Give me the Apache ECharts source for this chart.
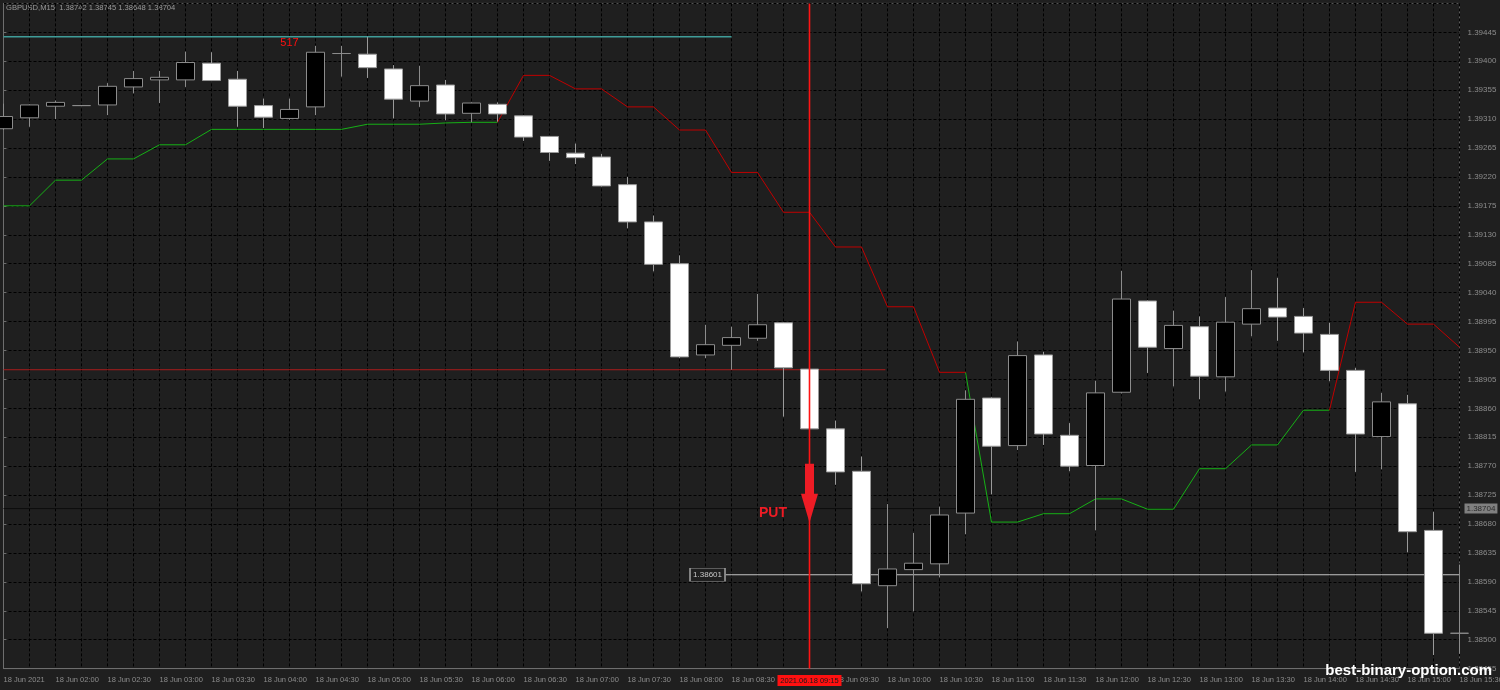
<!DOCTYPE html>
<html><head><meta charset="utf-8">
<script src="https://cdn.jsdelivr.net/npm/echarts@6/dist/echarts.min.js"></script>
<style>html,body{margin:0;padding:0;background:#1f1f1f;}#c{width:1500px;height:690px;}</style>
</head><body><div id="c"></div>
<script>
// ---------- data ----------
const headerText = 'GBPUSD,M15  1.38742 1.38745 1.38648 1.38704';
const tickLabels = ['18 Jun 2021','18 Jun 02:00','18 Jun 02:30','18 Jun 03:00','18 Jun 03:30','18 Jun 04:00','18 Jun 04:30','18 Jun 05:00','18 Jun 05:30','18 Jun 06:00','18 Jun 06:30','18 Jun 07:00','18 Jun 07:30','18 Jun 08:00','18 Jun 08:30','18 Jun 09:00','18 Jun 09:30','18 Jun 10:00','18 Jun 10:30','18 Jun 11:00','18 Jun 11:30','18 Jun 12:00','18 Jun 12:30','18 Jun 13:00','18 Jun 13:30','18 Jun 14:00','18 Jun 14:30','18 Jun 15:00','18 Jun 15:30'];
const opens  = [1.39295,1.39312,1.39330,1.39331,1.39332,1.39360,1.39371,1.39371,1.39397,1.39372,1.39331,1.39311,1.39329,1.39412,1.39411,1.39388,1.39338,1.39363,1.39319,1.39333,1.39315,1.39283,1.39257,1.39251,1.39208,1.39150,1.39085,1.38943,1.38958,1.38969,1.38993,1.38921,1.38828,1.38762,1.38584,1.38609,1.38618,1.38697,1.38876,1.38802,1.38943,1.38818,1.38771,1.38885,1.39027,1.38953,1.38987,1.38909,1.38991,1.39016,1.39003,1.38975,1.38919,1.38816,1.38867,1.38670,1.38510];
const closes = [1.39314,1.39332,1.39336,1.39331,1.39361,1.39373,1.39375,1.39398,1.39370,1.39330,1.39313,1.39325,1.39414,1.39412,1.39390,1.39341,1.39362,1.39318,1.39335,1.39318,1.39282,1.39258,1.39250,1.39206,1.39150,1.39084,1.38940,1.38959,1.38970,1.38990,1.38923,1.38828,1.38761,1.38587,1.38610,1.38619,1.38694,1.38874,1.38801,1.38942,1.38820,1.38770,1.38884,1.39030,1.38955,1.38989,1.38910,1.38994,1.39015,1.39002,1.38977,1.38919,1.38820,1.38870,1.38668,1.38510,1.38510];
const lows   = [1.39293,1.39298,1.39310,1.39330,1.39316,1.39350,1.39335,1.39360,1.39369,1.39298,1.39296,1.39309,1.39316,1.39376,1.39374,1.39311,1.39329,1.39308,1.39305,1.39306,1.39276,1.39245,1.39240,1.39205,1.39140,1.39073,1.38938,1.38938,1.38920,1.38965,1.38847,1.38827,1.38741,1.38575,1.38518,1.38544,1.38597,1.38664,1.38726,1.38795,1.38803,1.38762,1.38670,1.38883,1.38915,1.38894,1.38874,1.38886,1.38972,1.38965,1.38947,1.38902,1.38761,1.38765,1.38636,1.38476,1.38478];
const highs  = [1.39334,1.39333,1.39339,1.39332,1.39366,1.39385,1.39385,1.39415,1.39414,1.39385,1.39342,1.39342,1.39424,1.39424,1.39438,1.39394,1.39393,1.39371,1.39336,1.39336,1.39316,1.39284,1.39272,1.39256,1.39220,1.39160,1.39098,1.38990,1.38987,1.39038,1.38994,1.38922,1.38841,1.38785,1.38711,1.38666,1.38707,1.38888,1.38877,1.38964,1.38948,1.38837,1.38903,1.39074,1.39028,1.39012,1.39003,1.39033,1.39075,1.39063,1.39016,1.38993,1.38923,1.38884,1.38881,1.38699,1.38617];
const greenTrail = [1.39175,1.39175,1.39215,1.39215,1.39248,1.39248,1.39270,1.39270,1.39294,1.39294,1.39294,1.39294,1.39294,1.39294,1.39302,1.39302,1.39302,1.39304,1.39305,1.39305,null,null,null,null,null,null,null,null,null,null,null,null,null,null,null,null,null,1.38916,1.38683,1.38683,1.38696,1.38696,1.38719,1.38719,1.38703,1.38703,1.38766,1.38766,1.38803,1.38803,1.38857,1.38857,null,null,null,null,null];
const redTrail   = [null,null,null,null,null,null,null,null,null,null,null,null,null,null,null,null,null,null,null,1.39305,1.39378,1.39378,1.39357,1.39357,1.39329,1.39329,1.39293,1.39293,1.39227,1.39227,1.39165,1.39165,1.39111,1.39111,1.39018,1.39018,1.38916,1.38916,null,null,null,null,null,null,null,null,null,null,null,null,null,1.38857,1.39025,1.39025,1.38991,1.38991,1.38955];
const yMin = 1.38455, yMax = 1.39490, yStep = 0.00045;
const highLevel = 1.39438,  highSpan = [0, 28];
const entryLevel = 1.38920, entrySpan = [0, 33.92];
const targetLevel = 1.38601, targetSpan = [27.77, 56];
const bidLevel = 1.38704, bidSpan = [0, 56];
const signalIndex = 31, signalTime = '2021.06.18 09:15', putPrice = 1.38728;
const counterMark = [11, 1.39428], counterText = '517';

// ---------- chart ----------
const chart = echarts.init(document.getElementById('c'));
const candles = opens.map((o, i) => [i, o, closes[i], lows[i], highs[i]]);
const toLine = arr => arr.map((v, i) => [i, v == null ? '-' : v]);
const seg = (span, level) => [[span[0], level], [span[1], level]];
const font = '"Liberation Sans", Arial, sans-serif';
const plain = (data, color, width, z, extra) => Object.assign({
  type: 'line', data, showSymbol: false, symbol: 'none', silent: true, clip: false,
  lineStyle: { color, width, type: 'solid', opacity: 1 }, z
}, extra || {});

chart.setOption({
  backgroundColor: '#1f1f1f',
  animation: false,
  grid: { left: 3.5, right: 40.5, top: 3.4, bottom: 21.4, show: true, borderColor: '#5c5c5c', borderWidth: 1,
          containLabel: false, outerBoundsMode: 'none' },
  xAxis: {
    type: 'value', min: 0, max: 56, interval: 1,
    axisLine: { lineStyle: { color: '#6e6e6e' } },
    axisTick: { show: false },
    splitLine: { show: true, lineStyle: { color: '#000', type: [3, 2], width: 1 } },
    axisLabel: {
      color: '#8c8c8c', fontSize: 7.5, fontFamily: font, align: 'left', margin: 7, hideOverlap: false,
      formatter: v => (Math.round(v) === v && v % 2 === 0) ? tickLabels[v / 2] : ''
    }
  },
  yAxis: {
    type: 'value', position: 'right', min: yMin, max: yMax, interval: yStep, scale: true,
    axisLine: { show: true, lineStyle: { color: '#6e6e6e' } },
    axisTick: { show: true, length: 3, lineStyle: { color: '#6e6e6e' } },
    splitLine: { show: true, lineStyle: { color: '#000', type: [3, 2], width: 1 } },
    axisLabel: { color: '#8c8c8c', fontSize: 8, fontFamily: font, margin: 8, showMaxLabel: false,
      formatter: v => v.toFixed(5) }
  },
  graphic: [
    { type: 'text', left: 6, top: 4, style: { text: headerText, fill: '#9a9a9a', font: '7.6px ' + font } },
    { type: 'text', right: 8, top: 663, z: 100, style: { text: 'best-binary-option.com', fill: '#ffffff', font: 'bold 15px ' + font } }
  ],
  series: [
    plain(toLine(greenTrail), '#16b016', 1, 3, { clip: true }),
    plain(toLine(redTrail), '#c00000', 1, 3, { clip: true }),
    plain(seg(bidSpan, bidLevel), '#0c0c0c', 1, 2, {
      endLabel: { show: true, formatter: bidLevel.toFixed(5), distance: 5, color: '#2a2a2a', fontSize: 8, fontFamily: font,
        backgroundColor: '#808080', padding: [1, 2, 1, 2] }
    }),
    plain(seg(highSpan, highLevel), '#3f9c98', 1.5, 2),
    plain(seg(entrySpan, entryLevel), '#a81c1c', 1, 2),
    plain(seg(targetSpan, targetLevel), '#c4c4c4', 1, 2, {
      markPoint: {
        silent: true, animation: false,
        data: [{ coord: [targetSpan[0], targetLevel], symbol: 'rect', symbolSize: [35, 13], symbolOffset: [-18, 0],
          itemStyle: { color: '#1f1f1f', borderColor: '#9a9a9a', borderWidth: 1 },
          label: { show: true, position: 'inside', formatter: targetLevel.toFixed(5), color: '#c8c8c8', fontSize: 8, fontFamily: font } }]
      }
    }),
    plain([[signalIndex, yMin], [signalIndex, yMax]], '#ff1414', 1.6, 5, {
      markPoint: {
        silent: true, animation: false,
        data: [{ coord: [signalIndex, yMin], symbol: 'rect', symbolSize: [64, 11], symbolOffset: [0, 12],
          itemStyle: { color: '#ff1010' },
          label: { show: true, position: 'inside', formatter: signalTime, color: '#1a1a1a', fontSize: 7.5, fontFamily: font } }]
      }
    }),
    {
      type: 'candlestick', data: candles, encode: { x: 0, y: [1, 2, 3, 4] }, barWidth: 19, z: 4,
      itemStyle: { color: '#000000', color0: '#ffffff', borderColor: '#8c8c8c', borderColor0: '#9a9a9a', borderColorDoji: '#8c8c8c', borderWidth: 1 }
    },
    {
      type: 'scatter', z: 6, silent: true,
      data: [[signalIndex, putPrice]],
      symbol: 'path://M4,0 L13,0 L13,30 L17,30 L8.5,59 L0,30 L4,30 Z',
      symbolSize: [17, 59],
      itemStyle: { color: '#ee1c25', opacity: 1 },
      label: { show: true, position: 'left', distance: 14, offset: [0, 20], formatter: 'PUT', color: '#ee1c25', fontSize: 14, fontWeight: 'bold', fontFamily: font }
    },
    {
      type: 'scatter', z: 7, silent: true,
      data: [counterMark], symbolSize: 1, itemStyle: { color: 'rgba(0,0,0,0)', opacity: 1 },
      label: { show: true, position: 'inside', formatter: counterText, color: '#ff1010', fontSize: 11, fontFamily: font }
    }
  ]
});
</script>
</body></html>
